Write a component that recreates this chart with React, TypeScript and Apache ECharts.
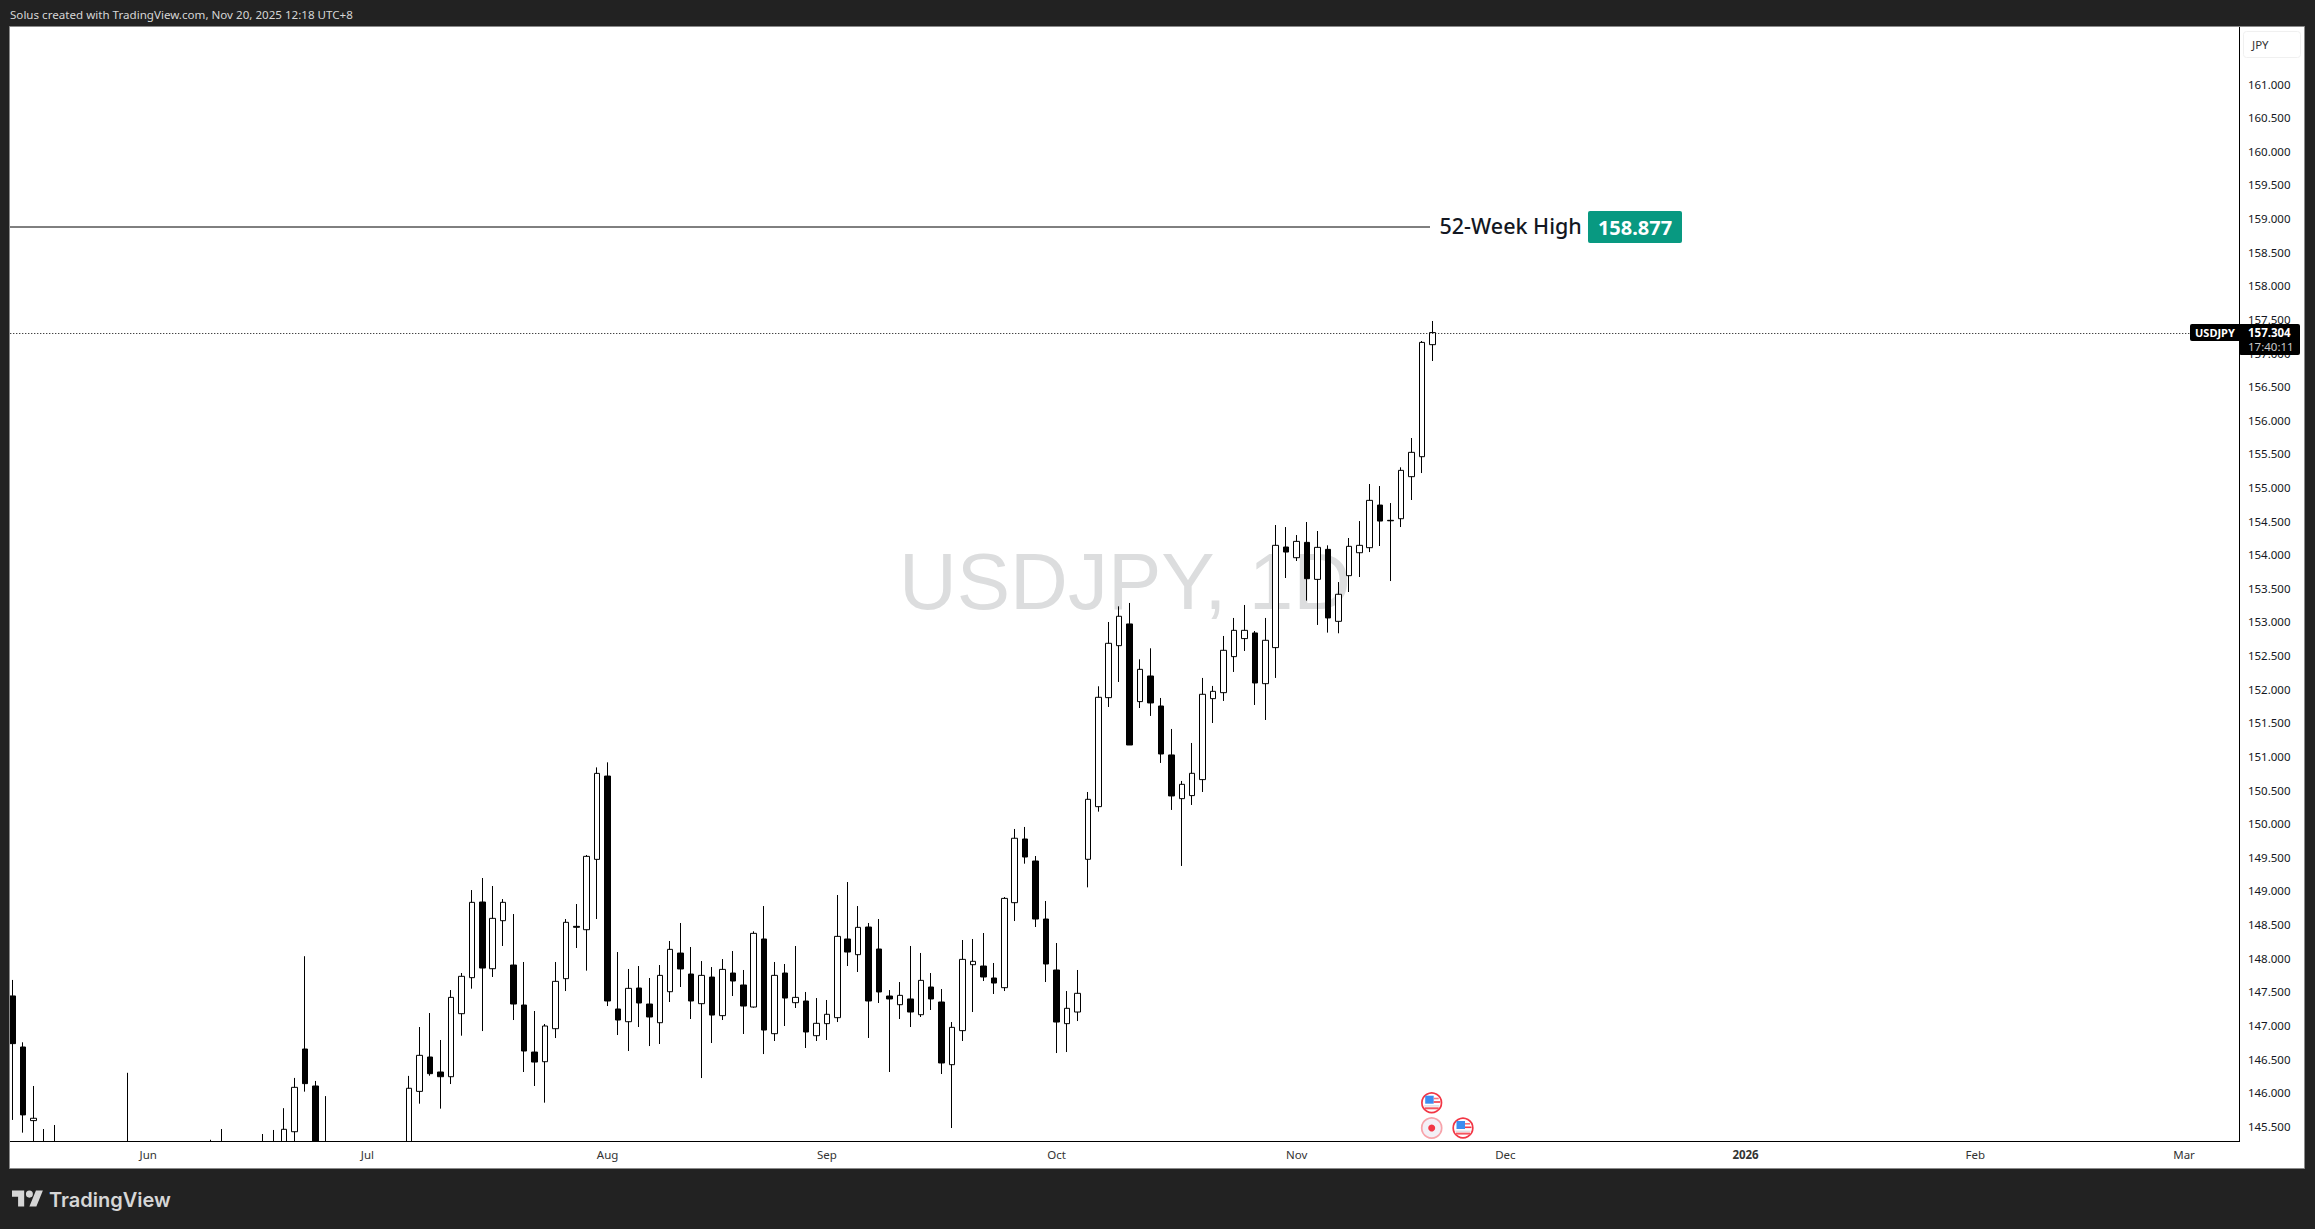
import React, { useEffect, useRef } from "react";
import * as echarts from "echarts";

// Bars 3-25 and 30-37 sit below the visible range: only their upper wicks show, the rest is estimated.
const opens = [
  147.439, 146.68, 145.585, 144.9, 144.7, 144.9, 144.6, 144.3, 143.9, 144.4, 144.1, 144.6, 144.8, 144.2, 143.5, 143.0,
  143.5, 144.0, 144.6, 144.2, 144.7, 144.9, 144.5, 145.0, 144.6, 145.1, 145.0, 145.42, 146.65, 146.1, 145.1, 144.7,
  144.9, 144.4, 144.0, 143.6, 143.9, 144.4, 145.1, 146.02, 146.531, 146.308, 146.238, 147.175, 147.711, 148.836,
  147.844, 148.558, 147.899, 147.304, 146.605, 146.461, 146.952, 147.696, 148.474, 148.424, 149.47, 150.709, 147.245,
  147.056, 147.557, 147.319, 147.041, 147.502, 148.077, 147.765, 147.324, 147.72, 147.146, 147.78, 147.602, 147.274,
  148.286, 146.878, 147.78, 147.339, 147.364, 146.848, 147.027, 147.116, 148.286, 148.053, 148.464, 148.137, 147.438,
  147.309, 147.394, 147.16, 147.572, 147.349, 146.417, 146.923, 147.904, 147.884, 147.706, 147.562, 148.826, 149.773,
  149.446, 148.583, 147.825, 147.027, 147.2, 149.471, 150.254, 151.875, 152.648, 152.971, 151.816, 152.197, 151.751,
  151.023, 150.373, 150.418, 150.656, 151.86, 151.949, 152.485, 152.753, 152.837, 152.083, 152.619, 154.115, 153.956,
  154.184, 153.634, 154.08, 153.01, 153.689, 154.03, 154.105, 154.739, 154.512, 154.536, 155.161, 155.458, 157.124,
];
const closes = [
  146.73, 145.67, 145.62, 144.6, 145.0, 144.6, 144.2, 143.9, 144.4, 144.1, 144.6, 144.9, 144.2, 143.5, 143.0, 143.5,
  144.0, 144.6, 144.2, 144.7, 144.9, 144.5, 145.0, 144.6, 145.1, 145.0, 145.456, 146.08, 146.135, 144.9, 144.7, 144.9,
  144.4, 144.0, 143.6, 143.9, 144.4, 144.9, 146.066, 146.556, 146.283, 146.238, 147.418, 147.731, 148.831, 147.854,
  148.593, 148.831, 147.319, 146.62, 146.456, 146.992, 147.656, 148.534, 148.46, 149.515, 150.749, 147.364, 147.081,
  147.552, 147.334, 147.126, 147.745, 148.132, 147.84, 147.364, 147.745, 147.155, 147.834, 147.661, 147.289, 148.37,
  146.932, 147.745, 147.408, 147.418, 146.903, 147.032, 147.166, 148.325, 148.092, 148.459, 147.364, 147.498, 147.394,
  147.448, 147.2, 147.671, 147.394, 146.442, 146.972, 147.983, 147.954, 147.721, 147.631, 148.89, 149.784, 149.505,
  148.583, 147.914, 147.051, 147.255, 147.478, 150.363, 151.88, 152.683, 153.085, 151.171, 152.296, 151.796, 151.037,
  150.413, 150.586, 150.75, 151.925, 151.969, 152.579, 152.876, 152.876, 152.093, 152.728, 154.14, 154.04, 154.199,
  153.644, 154.11, 153.06, 153.412, 154.125, 154.14, 154.809, 154.501, 154.505, 155.255, 155.523, 157.158, 157.304,
];
const lows = [
  145.595, 145.406, 144.95, 144.4, 144.4, 144.2, 143.9, 143.6, 143.7, 143.8, 143.9, 144.2, 143.9, 143.3, 142.8, 142.7,
  143.3, 143.8, 143.9, 144.0, 144.3, 144.2, 144.3, 144.3, 144.4, 144.6, 144.8, 145.1, 146.016, 144.7, 144.5, 144.4,
  144.1, 143.7, 143.2, 143.3, 143.7, 144.2, 144.9, 145.837, 146.253, 145.763, 146.129, 146.848, 147.547, 146.917,
  147.721, 148.182, 147.081, 146.308, 146.1, 145.852, 146.813, 147.512, 148.152, 147.815, 148.583, 147.289, 146.858,
  146.62, 146.977, 146.694, 146.724, 147.349, 147.572, 147.096, 146.218, 146.739, 147.081, 147.438, 146.873, 147.264,
  146.575, 146.769, 146.992, 147.26, 146.665, 146.769, 146.784, 147.051, 147.884, 147.795, 146.814, 147.334, 146.308,
  147.096, 146.977, 147.126, 147.23, 146.278, 145.475, 146.769, 147.2, 147.661, 147.468, 147.512, 148.553, 149.406,
  148.464, 147.646, 146.59, 146.605, 147.066, 149.054, 150.18, 151.736, 152.108, 151.171, 151.721, 151.603, 150.904,
  150.205, 149.372, 150.279, 150.472, 151.498, 151.826, 152.257, 152.569, 151.766, 151.543, 152.168, 153.654, 153.907,
  153.318, 152.956, 152.842, 152.832, 153.446, 153.669, 154.04, 154.13, 153.609, 154.412, 154.814, 155.215, 156.881,
];
const highs = [
  147.677, 146.75, 146.1, 145.46, 145.52, 145.15, 144.9, 144.6, 144.7, 144.8, 145.0, 146.296, 145.1, 144.5, 143.9,
  143.9, 144.5, 144.9, 145.0, 145.3, 145.46, 145.1, 145.2, 145.25, 145.386, 145.446, 145.77, 146.22, 148.03, 146.175,
  145.95, 145.2, 145.1, 144.6, 144.3, 144.2, 144.6, 145.1, 146.25, 146.977, 147.185, 146.784, 147.527, 147.78, 149.014,
  149.193, 149.074, 148.88, 148.657, 147.944, 147.215, 147.022, 147.944, 148.583, 148.806, 149.535, 150.838, 150.913,
  148.092, 147.84, 147.884, 147.706, 147.899, 148.256, 148.524, 148.167, 147.958, 147.869, 147.988, 148.107, 147.825,
  148.4, 148.776, 147.944, 147.914, 148.182, 147.498, 147.408, 147.379, 148.94, 149.133, 148.776, 148.524, 148.583,
  147.527, 147.646, 148.182, 148.078, 147.78, 147.542, 147.051, 148.271, 148.286, 148.375, 147.929, 148.91, 149.922,
  149.952, 149.52, 148.851, 148.226, 147.512, 147.825, 150.472, 152.044, 153.0, 153.233, 153.283, 152.445, 152.609,
  151.87, 151.409, 150.636, 151.201, 152.168, 152.049, 152.792, 153.06, 153.253, 152.866, 153.06, 154.442, 154.412,
  154.293, 154.487, 154.353, 154.14, 153.594, 154.249, 154.501, 155.052, 155.022, 154.769, 155.3, 155.736, 157.178,
  157.476,
];

const priceTicks = [
  145.5, 146, 146.5, 147, 147.5, 148, 148.5, 149, 149.5, 150, 150.5, 151, 151.5, 152, 152.5, 153, 153.5, 154, 154.5,
  155, 155.5, 156, 156.5, 157, 157.5, 158, 158.5, 159, 159.5, 160, 160.5, 161,
];
const monthTickDates = [
  "2025-06-02", "2025-07-01", "2025-08-01", "2025-09-01", "2025-10-01", "2025-11-03", "2025-12-01", "2026-01-01",
  "2026-02-02", "2026-03-02",
];
const monthTickLabels = ["Jun", "Jul", "Aug", "Sep", "Oct", "Nov", "Dec", "2026", "Feb", "Mar"];

const FIRST_SESSION = "2025-05-14";
const SESSION_COUNT = 214; // traded sessions plus the empty future space to the right
const WEEK_HIGH = 158.877;
const LAST_PRICE = 157.304;

function weekdaySessions(start: string, count: number): string[] {
  const out: string[] = [];
  const d = new Date(start + "T00:00:00Z");
  while (out.length < count) {
    const wd = d.getUTCDay();
    if (wd !== 0 && wd !== 6) out.push(d.toISOString().slice(0, 10));
    d.setUTCDate(d.getUTCDate() + 1);
  }
  return out;
}

const UI_FONT = "'Noto Sans', sans-serif";
const DARK = "#222222";
const INK = "#131722";

function flagIcon(cx: number, cy: number, z: number) {
  const r = (x: number, y: number, w: number, h: number, fill: string) => ({
    type: "rect", shape: { x, y, width: w, height: h }, style: { fill }, z, silent: true,
  });
  return {
    type: "group", x: cx, y: cy, z, silent: true,
    children: [
      { type: "circle", shape: { cx: 0, cy: 0, r: 9.8 }, style: { fill: "#fff", stroke: "#f23645", lineWidth: 1.7 }, z },
      r(-6.5, -7, 8.5, 8, "#3d8df0"),
      r(2, -5, 5, 1.6, "#f7737d"),
      r(2, -1.5, 6.5, 1.6, "#f23645"),
      r(-7.5, 2.6, 15, 1.2, "#d8d8de"),
      r(-7, 4.6, 14, 2, "#f4555f"),
    ],
  };
}

export default function App() {
  const ref = useRef<HTMLDivElement>(null);

  useEffect(() => {
    if (!ref.current) return;
    echarts.graphic.registerShape(
      "tvlogo",
      echarts.graphic.extendPath("M14 22H7V11H0V4h14v18zM28 22h-8l7.5-18h8L28 22zM24 8a4 4 0 1 1-8 0a4 4 0 0 1 8 0z", {})
    );
    const chart = echarts.init(ref.current, undefined, { renderer: "svg" });
    const categories = weekdaySessions(FIRST_SESSION, SESSION_COUNT);
    const ohlc = opens.map((o, i) => [o, closes[i], lows[i], highs[i]]);
    const tickMap = new Map(monthTickDates.map((d, i) => [d, monthTickLabels[i]]));

    chart.setOption({
      animation: false,
      backgroundColor: "#ffffff",
      grid: { left: 7.28, top: 27, width: 2234.16, height: 1114, containLabel: false },
      xAxis: {
        type: "category",
        z: 6,
        data: categories,
        boundaryGap: true,
        axisLine: { show: true, lineStyle: { color: "#000", width: 1 } },
        axisTick: { show: false },
        splitLine: { show: false },
        axisLabel: {
          color: "#333",
          fontFamily: UI_FONT,
          fontSize: 11.5,
          margin: 7,
          interval: (_: number, v: string) => tickMap.has(v),
          formatter: (v: string) => {
            const t = tickMap.get(v) ?? "";
            return t === "2026" ? "{y|2026}" : t;
          },
          rich: { y: { fontWeight: 700, fontFamily: UI_FONT, fontSize: 11.5, color: "#333" } },
        },
      },
      yAxis: {
        type: "value",
        z: 6,
        position: "right",
        offset: -2.5,
        min: 145.282,
        max: 161.848,
        scale: true,
        axisLine: { show: true, onZero: false, lineStyle: { color: "#000", width: 1 } },
        axisTick: { show: false },
        splitLine: { show: false },
        axisLabel: {
          color: INK,
          fontFamily: UI_FONT,
          fontSize: 11.5,
          margin: 9,
          customValues: priceTicks,
          formatter: (v: number) => v.toFixed(3),
        },
      },
      series: [
        {
          type: "candlestick",
          name: "USDJPY",
          z: 2,
          data: ohlc,
          barWidth: 6,
          clip: true,
          itemStyle: {
            color: "#ffffff",
            color0: "#000000",
            borderColor: "#000000",
            borderColor0: "#000000",
            borderWidth: 1,
          },
          markLine: {
            silent: true,
            symbol: "none",
            label: { show: false },
            lineStyle: { color: "#000", type: [1, 2], width: 1 },
            data: [{ yAxis: LAST_PRICE }],
          },
        },
      ],
    });

    const yHigh = chart.convertToPixel({ yAxisIndex: 0 }, WEEK_HIGH) as number;
    const yLast = chart.convertToPixel({ yAxisIndex: 0 }, LAST_PRICE) as number;
    const Z = 100;
    const dark = (x: number, y: number, width: number, height: number) => ({
      type: "rect", shape: { x, y, width, height }, style: { fill: DARK }, z: Z, silent: true,
    });
    const label = (text: string, x: number, y: number, fill: string, font: string, align = "left", z = Z + 3) => ({
      type: "text", x, y, z, silent: true,
      style: { text, fill, font, textAlign: align, textVerticalAlign: "middle" },
    });

    chart.setOption({
      graphic: [
        // Watermark under the candles
        {
          type: "text", x: 1125, y: 581, z: 0, silent: true,
          style: {
            text: "USDJPY, 1D", fill: "#dcddde",
            font: "80px 'Liberation Sans', Arial, sans-serif",
            textAlign: "center", textVerticalAlign: "middle",
          },
        },
        // The strip under the time axis hides what is below the price range
        {
          type: "rect", z: 4, silent: true,
          shape: { x: 10, y: 1142, width: 2229, height: 27 },
          style: { fill: "#ffffff" },
        },
        // 52-week high annotation
        {
          type: "line", z: 5, silent: true,
          shape: { x1: 10, y1: Math.round(yHigh), x2: 1430, y2: Math.round(yHigh) },
          style: { stroke: "#000", lineWidth: 1 },
        },
        label("52-Week High", 1439.5, yHigh - 1.5, INK, "500 21.5px 'Noto Sans', sans-serif"),
        {
          type: "rect", z: Z + 2, silent: true,
          shape: { x: 1588, y: 211, width: 94, height: 32, r: 2 },
          style: { fill: "#089981" },
        },
        label("158.877", 1635, 227, "#ffffff", "700 20px 'Noto Sans', sans-serif", "center"),
        // Economic events
        flagIcon(1431.7, 1102.7, Z + 1),
        {
          type: "circle", z: Z + 1, silent: true,
          shape: { cx: 1431.7, cy: 1128, r: 10 },
          style: { fill: "#f3f0f6", stroke: "#f7a3aa", lineWidth: 1.7 },
        },
        {
          type: "circle", z: Z + 2, silent: true,
          shape: { cx: 1431.7, cy: 1128, r: 3.5 },
          style: { fill: "#f23645" },
        },
        flagIcon(1463, 1128, Z + 1),
        // Frame
        dark(0, 0, 2315, 26.5),
        dark(0, 1168.5, 2315, 60.5),
        dark(0, 26, 9.5, 1143),
        dark(2304.5, 26, 10.5, 1143),
        {
          type: "rect", z: Z + 1, silent: true,
          shape: { x: 9.5, y: 26.5, width: 2295, height: 1142 },
          style: { fill: "none", stroke: "#8a8a8a", lineWidth: 1 },
        },
        // Stub of the time axis past the price axis
        {
          type: "rect", z: 7, silent: true,
          shape: { x: 2240, y: 1138, width: 5, height: 6 },
          style: { fill: "#ffffff" },
        },
        // Header and footer
        label("Solus created with TradingView.com, Nov 20, 2025 12:18 UTC+8", 10, 14.5, "#d6d6d6", "11.6px 'Noto Sans', sans-serif"),
        {
          type: "tvlogo", x: 12, y: 1187, scaleX: 0.87, scaleY: 0.89, z: Z + 3, silent: true,
          style: { fill: "#d6d6d6" },
        },
        label("TradingView", 49, 1199.5, "#d6d6d6", "600 20px Inter, sans-serif"),
        // Currency chip
        {
          type: "rect", z: Z + 1, silent: true,
          shape: { x: 2243.5, y: 31.5, width: 57, height: 26, r: 3 },
          style: { fill: "#fff", stroke: "#f0f0f0", lineWidth: 1 },
        },
        label("JPY", 2252, 44.5, "#333", "11.5px 'Noto Sans', sans-serif"),
        // Last price tag
        {
          type: "rect", z: Z + 1, silent: true,
          shape: { x: 2190, y: yLast - 8.5, width: 52, height: 17, r: 2 },
          style: { fill: "#000" },
        },
        {
          type: "rect", z: Z + 1, silent: true,
          shape: { x: 2239, y: yLast - 8.5, width: 61, height: 31, r: 2 },
          style: { fill: "#000" },
        },
        label("USDJPY", 2195, yLast, "#fff", "700 11px 'Noto Sans', sans-serif"),
        label("157.304", 2248, yLast, "#fff", "700 11.5px 'Noto Sans', sans-serif"),
        label("17:40:11", 2248, yLast + 14, "#c8c8c8", "11.5px 'Noto Sans', sans-serif"),
      ],
    });

    return () => chart.dispose();
  }, []);

  return (
    <div
      ref={ref}
      style={{ position: "fixed", left: 0, top: 0, width: 2315, height: 1229 }}
    />
  );
}
